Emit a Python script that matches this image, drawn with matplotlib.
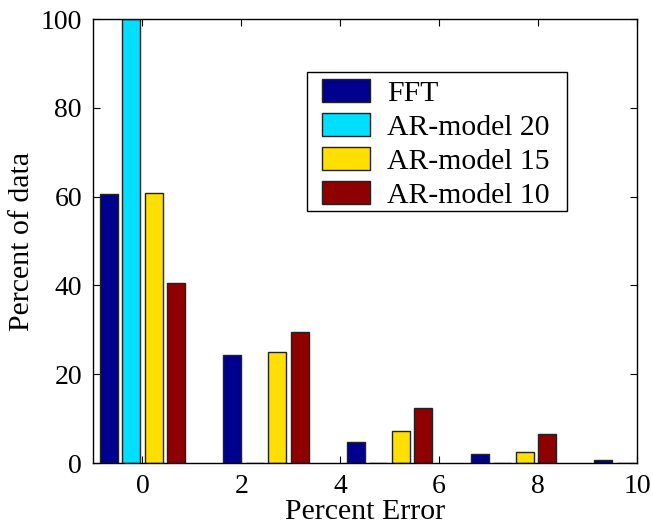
import matplotlib
matplotlib.use("Agg")
import matplotlib.pyplot as plt
from matplotlib.patches import Rectangle
import numpy as np

plt.rcParams['font.family'] = ['Liberation Serif', 'DejaVu Serif']

groups = [0, 2.5, 5, 7.5, 10]
series_names = ["FFT", "AR-model 20", "AR-model 15", "AR-model 10"]
fft = [60.6, 24.3, 4.8, 2.0, 0.7]
ar20 = [100, 0, 0, 0, 0]
ar15 = [60.8, 25.1, 7.3, 2.5, 0]
ar10 = [40.5, 29.5, 12.5, 6.5, 0]
colors = ["#00008F", "#00DFFF", "#FFDF00", "#8F0000"]
xticks = [0, 2, 4, 6, 8, 10]
yticks = [0, 20, 40, 60, 80, 100]

W, H = 653, 528
fig = plt.figure(figsize=(W / 100, H / 100), dpi=100)
ax = fig.add_axes([0.1424, 0.1231, 0.8331, 0.8409])

n = 4
spacing = 2.5
group_w = n / (n + 1.5) * spacing
slot = group_w / n
bw = 0.8 * slot
x = np.array(groups)
for i, (vals, c, name) in enumerate(zip([fft, ar20, ar15, ar10], colors, series_names)):
    offs = (i - (n - 1) / 2) * slot
    ax.bar(x + offs, vals, width=bw, color=c, edgecolor="#222222", linewidth=1.0, label=name, zorder=2)

ax.set_xlim(-1, 10)
ax.set_ylim(0, 100)
ax.set_xticks(xticks)
ax.set_yticks(yticks)
ax.tick_params(direction="in", length=5, width=0.8, top=True, right=True, labelsize=20, pad=8)
for s in ax.spines.values():
    s.set_linewidth(1.0)
ax.set_xlabel("Percent Error", fontsize=21.5, labelpad=0)
ax.set_ylabel("Percent of data", fontsize=21.5, labelpad=4)

# legend frame (box drawn separately)
fx0, fx1 = 307 / W, 567 / W
fy1, fy0 = 1 - 72 / H, 1 - 211 / H
ax.add_patch(Rectangle((fx0, fy0), fx1 - fx0, fy1 - fy0, transform=fig.transFigure,
                       facecolor="white", edgecolor="black", linewidth=1.0, zorder=4.5, clip_on=False))

leg = ax.legend(loc="upper left", bbox_to_anchor=(322 / W, 1 - 79 / H), bbox_transform=fig.transFigure,
                fontsize=21.4, frameon=False, handlelength=1.62, handleheight=0.83,
                handletextpad=0.57, labelspacing=0.2, borderpad=0, borderaxespad=0)
leg.set_zorder(6)

fig.savefig("out.png", dpi=100)
